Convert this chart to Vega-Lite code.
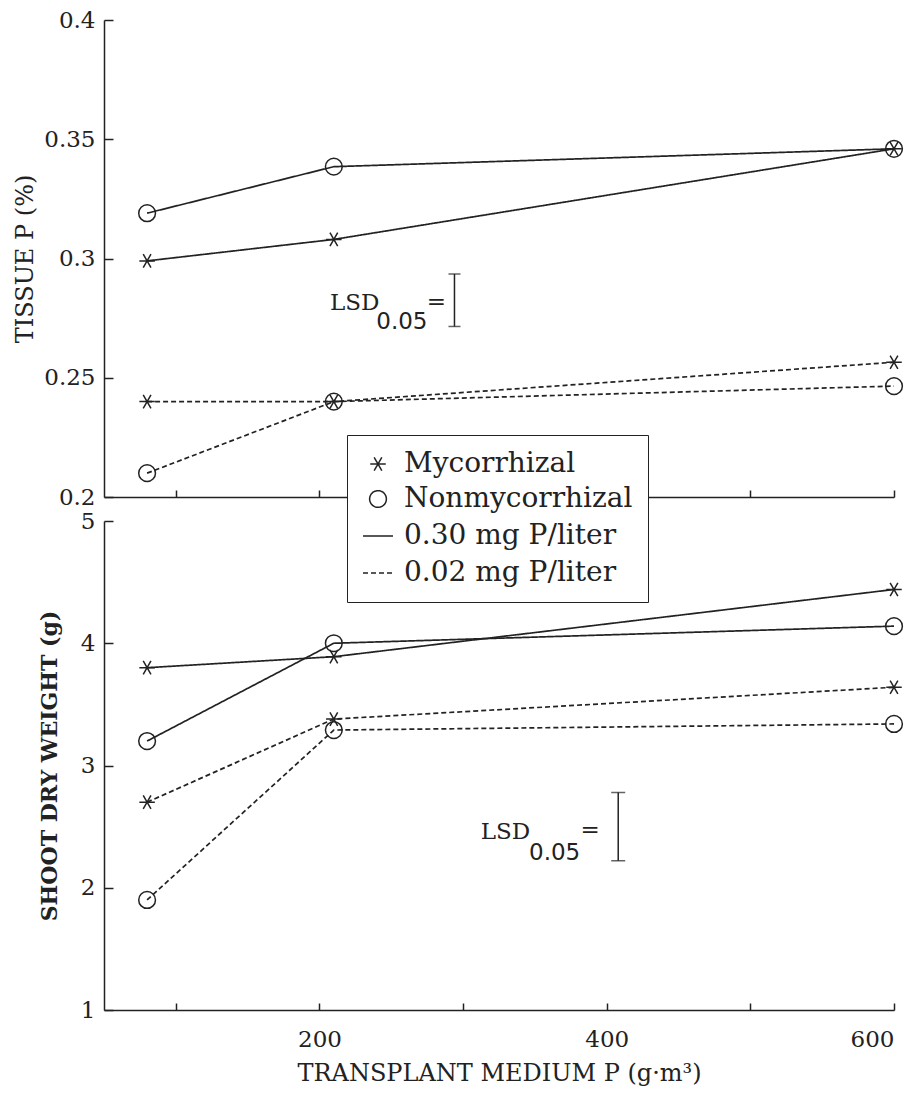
{
  "$schema": "https://vega.github.io/schema/vega-lite/v6.json",
  "background": "white",
  "padding": {"left": 13, "top": 9, "right": 5, "bottom": 5},
  "autosize": {"type": "pad"},
  "spacing": 24,
  "bounds": "flush",
  "datasets": {
    "obs": [
      {"panel": "tissue", "p": 80, "value": 0.299, "type": "Mycorrhizal", "solution": "0.30 mg P/liter"},
      {"panel": "tissue", "p": 210, "value": 0.308, "type": "Mycorrhizal", "solution": "0.30 mg P/liter"},
      {"panel": "tissue", "p": 600, "value": 0.346, "type": "Mycorrhizal", "solution": "0.30 mg P/liter"},
      {"panel": "tissue", "p": 80, "value": 0.319, "type": "Nonmycorrhizal", "solution": "0.30 mg P/liter"},
      {"panel": "tissue", "p": 210, "value": 0.3385, "type": "Nonmycorrhizal", "solution": "0.30 mg P/liter"},
      {"panel": "tissue", "p": 600, "value": 0.346, "type": "Nonmycorrhizal", "solution": "0.30 mg P/liter"},
      {"panel": "tissue", "p": 80, "value": 0.240, "type": "Mycorrhizal", "solution": "0.02 mg P/liter"},
      {"panel": "tissue", "p": 210, "value": 0.240, "type": "Mycorrhizal", "solution": "0.02 mg P/liter"},
      {"panel": "tissue", "p": 600, "value": 0.2565, "type": "Mycorrhizal", "solution": "0.02 mg P/liter"},
      {"panel": "tissue", "p": 80, "value": 0.210, "type": "Nonmycorrhizal", "solution": "0.02 mg P/liter"},
      {"panel": "tissue", "p": 210, "value": 0.240, "type": "Nonmycorrhizal", "solution": "0.02 mg P/liter"},
      {"panel": "tissue", "p": 600, "value": 0.2465, "type": "Nonmycorrhizal", "solution": "0.02 mg P/liter"},
      {"panel": "shoot", "p": 80, "value": 3.80, "type": "Mycorrhizal", "solution": "0.30 mg P/liter"},
      {"panel": "shoot", "p": 210, "value": 3.89, "type": "Mycorrhizal", "solution": "0.30 mg P/liter"},
      {"panel": "shoot", "p": 600, "value": 4.44, "type": "Mycorrhizal", "solution": "0.30 mg P/liter"},
      {"panel": "shoot", "p": 80, "value": 3.20, "type": "Nonmycorrhizal", "solution": "0.30 mg P/liter"},
      {"panel": "shoot", "p": 210, "value": 4.00, "type": "Nonmycorrhizal", "solution": "0.30 mg P/liter"},
      {"panel": "shoot", "p": 600, "value": 4.14, "type": "Nonmycorrhizal", "solution": "0.30 mg P/liter"},
      {"panel": "shoot", "p": 80, "value": 2.70, "type": "Mycorrhizal", "solution": "0.02 mg P/liter"},
      {"panel": "shoot", "p": 210, "value": 3.38, "type": "Mycorrhizal", "solution": "0.02 mg P/liter"},
      {"panel": "shoot", "p": 600, "value": 3.64, "type": "Mycorrhizal", "solution": "0.02 mg P/liter"},
      {"panel": "shoot", "p": 80, "value": 1.90, "type": "Nonmycorrhizal", "solution": "0.02 mg P/liter"},
      {"panel": "shoot", "p": 210, "value": 3.29, "type": "Nonmycorrhizal", "solution": "0.02 mg P/liter"},
      {"panel": "shoot", "p": 600, "value": 3.34, "type": "Nonmycorrhizal", "solution": "0.02 mg P/liter"}
    ],
    "lsd": [
      {"panel": "tissue", "p": 294, "lo": 0.2715, "hi": 0.2935},
      {"panel": "shoot", "p": 408, "lo": 2.22, "hi": 2.78}
    ]
  },
  "config": {
    "view": {"stroke": null},
    "axis": {
      "grid": false,
      "domainColor": "#222", "domainWidth": 1.5,
      "tickColor": "#222", "tickWidth": 1.5,
      "labelColor": "#222", "labelFont": "DejaVu Serif", "labelFontSize": 23,
      "titleColor": "#222", "titleFont": "DejaVu Serif", "titleFontSize": 24
    },
    "legend": {
      "labelLimit": 500
    }
  },
  "vconcat": [
    {
      "width": 790,
      "height": 477,
      "layer": [
        {
          "data": {"name": "obs"},
          "transform": [{"filter": "datum.panel == 'tissue'"}],
          "mark": {"type": "line", "color": "#222", "strokeWidth": 1.7},
          "encoding": {
            "x": {"field": "p", "type": "quantitative", "scale": {"domain": [50, 600], "nice": false, "zero": false},
                  "axis": {"values": [100, 200, 300, 400, 500, 600], "labels": false, "title": null, "tickSize": -7}},
            "y": {"field": "value", "type": "quantitative", "scale": {"domain": [0.2, 0.4], "nice": false, "zero": false},
                  "axis": {"values": [0.2, 0.25, 0.3, 0.35, 0.4], "format": "~g", "tickSize": -9, "labelPadding": 18,
                           "title": "TISSUE P (%)", "titleFontWeight": "normal", "titlePadding": 6}},
            "detail": {"field": "type"},
            "strokeDash": {"field": "solution", "type": "nominal",
                           "scale": {"domain": ["Mycorrhizal", "Nonmycorrhizal", "0.30 mg P/liter", "0.02 mg P/liter"],
                                     "range": [[1, 0], [1, 0], [1, 0], [5, 3]]},
                           "legend": {"orient": "none", "legendX": 243, "legendY": 415, "title": null, "labelLimit": 500,
                                      "labelFont": "DejaVu Serif", "labelFontSize": 28, "labelColor": "#222",
                                      "strokeColor": "#222", "fillColor": "white", "padding": 15, "rowPadding": 7,
                                      "labelOffset": 10, "symbolStrokeColor": "#222", "symbolFillColor": "transparent",
                                      "symbolStrokeWidth": 1.5}}
          }
        },
        {
          "data": {"name": "obs"},
          "transform": [{"filter": "datum.panel == 'tissue'"}],
          "mark": {"type": "point", "filled": false, "color": "#222", "strokeWidth": 1.5, "opacity": 1},
          "encoding": {
            "x": {"field": "p", "type": "quantitative"},
            "y": {"field": "value", "type": "quantitative"},
            "shape": {"field": "type", "type": "nominal",
                      "scale": {"domain": ["Mycorrhizal", "Nonmycorrhizal", "0.30 mg P/liter", "0.02 mg P/liter"],
                                "range": ["M-1,0L1,0M-0.5,-0.866L0.5,0.866M-0.5,0.866L0.5,-0.866", "circle", "stroke", "stroke"]},
                      "legend": {"orient": "none", "legendX": 243, "legendY": 415, "title": null, "labelLimit": 500,
                                 "labelFont": "DejaVu Serif", "labelFontSize": 28, "labelColor": "#222",
                                 "strokeColor": "#222", "fillColor": "white", "padding": 15, "rowPadding": 7,
                                 "labelOffset": 10, "symbolStrokeColor": "#222", "symbolFillColor": "transparent",
                                 "symbolStrokeWidth": 1.5}},
            "size": {"field": "type", "type": "nominal",
                     "scale": {"type": "ordinal", "domain": ["Mycorrhizal", "Nonmycorrhizal", "0.30 mg P/liter", "0.02 mg P/liter"],
                               "range": [240, 280, 900, 900]},
                     "legend": {"orient": "none", "legendX": 243, "legendY": 415, "title": null, "labelLimit": 500,
                                "labelFont": "DejaVu Serif", "labelFontSize": 28, "labelColor": "#222",
                                "strokeColor": "#222", "fillColor": "white", "padding": 15, "rowPadding": 7,
                                "labelOffset": 10, "symbolStrokeColor": "#222", "symbolFillColor": "transparent",
                                "symbolStrokeWidth": 1.5}}
          }
        },
        {
          "data": {"name": "lsd"},
          "transform": [{"filter": "datum.panel == 'tissue'"}],
          "mark": {"type": "rule", "color": "#222", "strokeWidth": 1.5},
          "encoding": {"x": {"field": "p", "type": "quantitative"}, "y": {"field": "lo", "type": "quantitative"}, "y2": {"field": "hi"}}
        },
        {
          "data": {"name": "lsd"},
          "transform": [{"filter": "datum.panel == 'tissue'"}],
          "mark": {"type": "tick", "orient": "horizontal", "size": 12, "thickness": 1.5, "color": "#222"},
          "encoding": {"x": {"field": "p", "type": "quantitative"}, "y": {"field": "lo", "type": "quantitative"}}
        },
        {
          "data": {"name": "lsd"},
          "transform": [{"filter": "datum.panel == 'tissue'"}],
          "mark": {"type": "tick", "orient": "horizontal", "size": 12, "thickness": 1.5, "color": "#222"},
          "encoding": {"x": {"field": "p", "type": "quantitative"}, "y": {"field": "hi", "type": "quantitative"}}
        },
        {
          "data": {"name": "lsd"},
          "transform": [{"filter": "datum.panel == 'tissue'"}],
          "mark": {"type": "text", "text": "LSD", "font": "DejaVu Serif", "fontSize": 23, "color": "#222", "align": "right", "baseline": "middle", "dx": -75, "dy": 29},
          "encoding": {"x": {"field": "p", "type": "quantitative"}, "y": {"field": "hi", "type": "quantitative"}}
        },
        {
          "data": {"name": "lsd"},
          "transform": [{"filter": "datum.panel == 'tissue'"}],
          "mark": {"type": "text", "text": "0.05", "font": "DejaVu Sans", "fontSize": 23, "color": "#222", "align": "right", "baseline": "middle", "dx": -27, "dy": 48},
          "encoding": {"x": {"field": "p", "type": "quantitative"}, "y": {"field": "hi", "type": "quantitative"}}
        },
        {
          "data": {"name": "lsd"},
          "transform": [{"filter": "datum.panel == 'tissue'"}],
          "mark": {"type": "text", "text": "=", "font": "DejaVu Serif", "fontSize": 23, "color": "#222", "align": "center", "baseline": "middle", "dx": -18, "dy": 28},
          "encoding": {"x": {"field": "p", "type": "quantitative"}, "y": {"field": "hi", "type": "quantitative"}}
        }
      ]
    },
    {
      "width": 790,
      "height": 489,
      "layer": [
        {
          "data": {"name": "obs"},
          "transform": [{"filter": "datum.panel == 'shoot'"}],
          "mark": {"type": "line", "color": "#222", "strokeWidth": 1.7},
          "encoding": {
            "x": {"field": "p", "type": "quantitative", "scale": {"domain": [50, 600], "nice": false, "zero": false},
                  "axis": {"values": [100, 200, 300, 400, 500, 600], "labelExpr": "datum.value % 200 === 0 ? datum.label : ''",
                           "tickSize": -7, "labelPadding": 25, "title": "TRANSPLANT MEDIUM P (g·m³)", "titleFontWeight": "normal",
                           "titleFontSize": 24, "titlePadding": 10}},
            "y": {"field": "value", "type": "quantitative", "scale": {"domain": [1, 5], "nice": false, "zero": false},
                  "axis": {"values": [1, 2, 3, 4, 5], "format": "d", "tickSize": -9, "labelPadding": 18,
                           "title": "SHOOT DRY WEIGHT (g)", "titleFontWeight": "bold", "titleFontSize": 22, "titlePadding": 19}},
            "detail": {"field": "type"},
            "strokeDash": {"field": "solution", "type": "nominal",
                           "scale": {"domain": ["Mycorrhizal", "Nonmycorrhizal", "0.30 mg P/liter", "0.02 mg P/liter"],
                                     "range": [[1, 0], [1, 0], [1, 0], [5, 3]]},
                           "legend": {"orient": "none", "legendX": 243, "legendY": 415, "title": null, "labelLimit": 500,
                                      "labelFont": "DejaVu Serif", "labelFontSize": 28, "labelColor": "#222",
                                      "strokeColor": "#222", "fillColor": "white", "padding": 15, "rowPadding": 7,
                                      "labelOffset": 10, "symbolStrokeColor": "#222", "symbolFillColor": "transparent",
                                      "symbolStrokeWidth": 1.5}}
          }
        },
        {
          "data": {"name": "obs"},
          "transform": [{"filter": "datum.panel == 'shoot'"}],
          "mark": {"type": "point", "filled": false, "color": "#222", "strokeWidth": 1.5, "opacity": 1},
          "encoding": {
            "x": {"field": "p", "type": "quantitative"},
            "y": {"field": "value", "type": "quantitative"},
            "shape": {"field": "type", "type": "nominal",
                      "scale": {"domain": ["Mycorrhizal", "Nonmycorrhizal", "0.30 mg P/liter", "0.02 mg P/liter"],
                                "range": ["M-1,0L1,0M-0.5,-0.866L0.5,0.866M-0.5,0.866L0.5,-0.866", "circle", "stroke", "stroke"]},
                      "legend": {"orient": "none", "legendX": 243, "legendY": 415, "title": null, "labelLimit": 500,
                                 "labelFont": "DejaVu Serif", "labelFontSize": 28, "labelColor": "#222",
                                 "strokeColor": "#222", "fillColor": "white", "padding": 15, "rowPadding": 7,
                                 "labelOffset": 10, "symbolStrokeColor": "#222", "symbolFillColor": "transparent",
                                 "symbolStrokeWidth": 1.5}},
            "size": {"field": "type", "type": "nominal",
                     "scale": {"type": "ordinal", "domain": ["Mycorrhizal", "Nonmycorrhizal", "0.30 mg P/liter", "0.02 mg P/liter"],
                               "range": [240, 280, 900, 900]},
                     "legend": {"orient": "none", "legendX": 243, "legendY": 415, "title": null, "labelLimit": 500,
                                "labelFont": "DejaVu Serif", "labelFontSize": 28, "labelColor": "#222",
                                "strokeColor": "#222", "fillColor": "white", "padding": 15, "rowPadding": 7,
                                "labelOffset": 10, "symbolStrokeColor": "#222", "symbolFillColor": "transparent",
                                "symbolStrokeWidth": 1.5}}
          }
        },
        {
          "data": {"name": "lsd"},
          "transform": [{"filter": "datum.panel == 'shoot'"}],
          "mark": {"type": "rule", "color": "#222", "strokeWidth": 1.5},
          "encoding": {"x": {"field": "p", "type": "quantitative"}, "y": {"field": "lo", "type": "quantitative"}, "y2": {"field": "hi"}}
        },
        {
          "data": {"name": "lsd"},
          "transform": [{"filter": "datum.panel == 'shoot'"}],
          "mark": {"type": "tick", "orient": "horizontal", "size": 14, "thickness": 1.5, "color": "#222"},
          "encoding": {"x": {"field": "p", "type": "quantitative"}, "y": {"field": "lo", "type": "quantitative"}}
        },
        {
          "data": {"name": "lsd"},
          "transform": [{"filter": "datum.panel == 'shoot'"}],
          "mark": {"type": "tick", "orient": "horizontal", "size": 14, "thickness": 1.5, "color": "#222"},
          "encoding": {"x": {"field": "p", "type": "quantitative"}, "y": {"field": "hi", "type": "quantitative"}}
        },
        {
          "data": {"name": "lsd"},
          "transform": [{"filter": "datum.panel == 'shoot'"}],
          "mark": {"type": "text", "text": "LSD", "font": "DejaVu Serif", "fontSize": 23, "color": "#222", "align": "right", "baseline": "middle", "dx": -88, "dy": 40},
          "encoding": {"x": {"field": "p", "type": "quantitative"}, "y": {"field": "hi", "type": "quantitative"}}
        },
        {
          "data": {"name": "lsd"},
          "transform": [{"filter": "datum.panel == 'shoot'"}],
          "mark": {"type": "text", "text": "0.05", "font": "DejaVu Sans", "fontSize": 23, "color": "#222", "align": "right", "baseline": "middle", "dx": -38, "dy": 61},
          "encoding": {"x": {"field": "p", "type": "quantitative"}, "y": {"field": "hi", "type": "quantitative"}}
        },
        {
          "data": {"name": "lsd"},
          "transform": [{"filter": "datum.panel == 'shoot'"}],
          "mark": {"type": "text", "text": "=", "font": "DejaVu Serif", "fontSize": 23, "color": "#222", "align": "center", "baseline": "middle", "dx": -28, "dy": 38},
          "encoding": {"x": {"field": "p", "type": "quantitative"}, "y": {"field": "hi", "type": "quantitative"}}
        }
      ]
    }
  ]
}
